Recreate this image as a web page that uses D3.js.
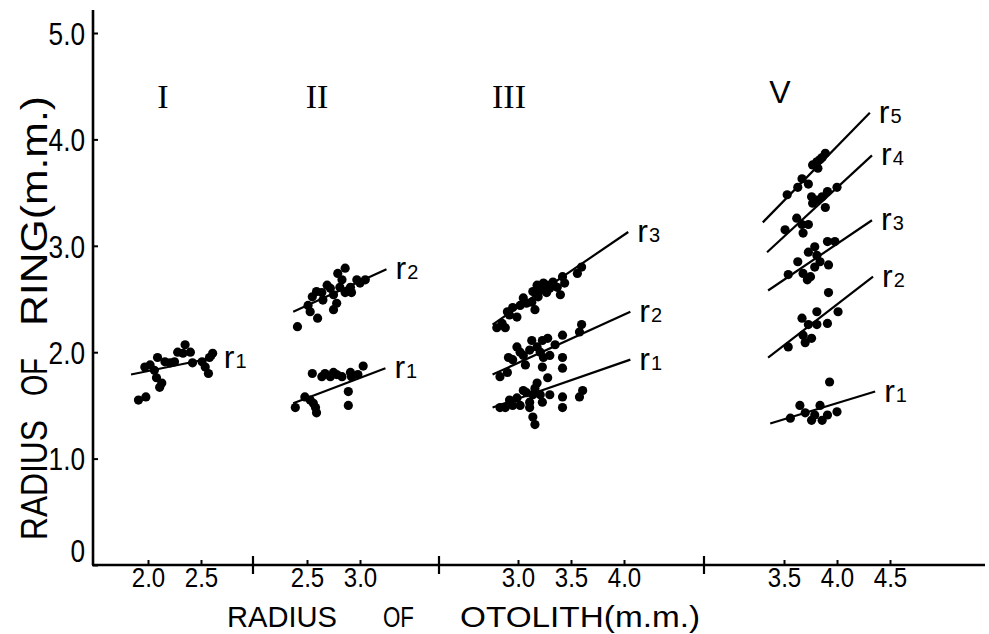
<!DOCTYPE html>
<html>
<head>
<meta charset="utf-8">
<script src="https://d3js.org/d3.v7.min.js"></script>
<style>
  body { margin: 0; background: #fff; }
  text { font-family: "Liberation Sans", Arial, sans-serif; fill: #000; }
  .dot { fill: #000; }
  .fit { stroke: #000; stroke-width: 2.2px; fill: none; }
  .axis line { stroke: #000; stroke-width: 2px; }
</style>
</head>
<body>
<script>
// age groups and the tick values of each otolith sub-axis
var groups = ["I", "II", "III", "V"];
var groupTicks = [[2.0, 2.5], [2.5, 3.0], [3.0, 3.5, 4.0], [3.5, 4.0, 4.5]];
var yTicks = [0, 1.0, 2.0, 3.0, 4.0, 5.0];

// points: [radius of otolith, radius of ring] (m.m.)
var g1_r1 = [[1.91,1.55],[1.98,1.58],[1.97,1.86],[2.02,1.88],[2.06,1.83],[2.08,1.76],[2.11,1.67],[2.13,1.71],[2.09,1.95],[2.16,1.91],[2.21,1.90],[2.25,1.91],[2.28,2.00],[2.33,1.99],[2.35,2.07],[2.40,2.00],[2.42,1.90],[2.51,1.91],[2.54,1.86],[2.57,1.80],[2.58,1.95],[2.61,1.99]];

var g2_r1 = [[2.39,1.48],[2.48,1.58],[2.53,1.55],[2.56,1.52],[2.58,1.48],[2.59,1.43],[2.55,1.80],[2.64,1.77],[2.67,1.80],[2.72,1.77],[2.75,1.81],[2.78,1.79],[2.83,1.77],[2.91,1.81],[2.92,1.77],[2.98,1.79],[3.03,1.87],[2.89,1.63],[2.89,1.50]];
var g2_r2 = [[2.41,2.24],[2.51,2.44],[2.55,2.52],[2.53,2.38],[2.60,2.32],[2.59,2.57],[2.64,2.56],[2.65,2.49],[2.69,2.63],[2.72,2.60],[2.75,2.54],[2.75,2.40],[2.78,2.46],[2.79,2.74],[2.83,2.68],[2.86,2.79],[2.81,2.61],[2.86,2.56],[2.91,2.61],[2.92,2.56],[2.97,2.68],[3.00,2.65],[3.05,2.68]];

var g3_r1 = [[2.83,1.48],[2.88,1.48],[2.92,1.55],[2.95,1.50],[2.99,1.57],[3.02,1.50],[3.05,1.64],[3.08,1.62],[3.11,1.53],[3.14,1.60],[3.16,1.66],[3.18,1.71],[3.21,1.60],[3.23,1.53],[3.28,1.76],[3.30,1.60],[3.14,1.39],[3.16,1.32],[3.42,1.58],[3.42,1.48],[3.58,1.58],[3.61,1.64],[3.11,1.48]];
var g3_r2 = [[2.83,1.77],[2.90,1.81],[2.91,1.95],[2.95,1.93],[2.99,2.05],[3.02,2.00],[3.05,1.97],[3.07,1.88],[3.11,2.02],[3.13,2.11],[3.18,2.05],[3.21,2.00],[3.23,2.11],[3.24,1.95],[3.23,1.86],[3.28,2.13],[3.30,1.97],[3.35,2.07],[3.42,2.16],[3.42,1.95],[3.42,1.85],[3.60,2.26],[3.58,2.19]];
var g3_r3 = [[2.80,2.23],[2.85,2.27],[2.88,2.23],[2.90,2.38],[2.92,2.35],[2.95,2.42],[2.99,2.33],[3.02,2.44],[3.05,2.51],[3.08,2.46],[3.13,2.47],[3.16,2.40],[3.14,2.57],[3.18,2.63],[3.21,2.58],[3.24,2.65],[3.27,2.56],[3.30,2.60],[3.33,2.66],[3.37,2.61],[3.40,2.54],[3.42,2.71],[3.44,2.65],[3.56,2.74],[3.60,2.80],[3.19,2.52],[3.27,2.63]];

var g5_r1 = [[3.56,1.38],[3.65,1.50],[3.70,1.43],[3.76,1.36],[3.79,1.41],[3.84,1.50],[3.86,1.36],[3.91,1.41],[4.00,1.44],[3.93,1.72]];
var g5_r2 = [[3.54,2.05],[3.67,2.32],[3.68,2.16],[3.70,2.09],[3.76,2.13],[3.73,2.26],[3.81,2.26],[3.81,2.38],[3.91,2.27],[3.92,2.56],[4.01,2.38]];
var g5_r3 = [[3.54,2.73],[3.63,2.85],[3.68,2.74],[3.72,2.68],[3.75,2.71],[3.73,2.94],[3.79,2.99],[3.81,2.91],[3.84,2.85],[3.79,2.80],[3.92,2.82],[3.91,3.04],[3.98,3.04]];
var g5_r4 = [[3.51,3.15],[3.62,3.26],[3.67,3.20],[3.68,3.12],[3.73,3.20],[3.76,3.46],[3.77,3.40],[3.81,3.43],[3.86,3.46],[3.91,3.51],[3.89,3.36],[4.00,3.55]];
var g5_r5 = [[3.53,3.48],[3.63,3.55],[3.67,3.63],[3.73,3.58],[3.77,3.76],[3.81,3.79],[3.82,3.73],[3.86,3.83],[3.89,3.87],[3.84,3.81]];

// fitted lines: [[x0,y0],[x1,y1]]
var g1_r1_fit = [[1.84,1.79],[2.63,1.95]];
var g2_r1_fit = [[2.37,1.52],[3.24,1.85]];
var g2_r2_fit = [[2.37,2.38],[3.25,2.78]];
var g3_r1_fit = [[2.76,1.48],[4.06,1.93]];
var g3_r2_fit = [[2.76,1.79],[4.06,2.38]];
var g3_r3_fit = [[2.76,2.26],[4.04,3.13]];
var g5_r1_fit = [[3.37,1.33],[4.36,1.63]];
var g5_r2_fit = [[3.35,1.95],[4.34,2.71]];
var g5_r3_fit = [[3.35,2.58],[4.33,3.24]];
var g5_r4_fit = [[3.34,2.94],[4.33,3.85]];
var g5_r5_fit = [[3.30,3.22],[4.31,4.25]];

var series = [
    {g: 0, ring: 1, pts: g1_r1, fit: g1_r1_fit},
    {g: 1, ring: 1, pts: g2_r1, fit: g2_r1_fit},
    {g: 1, ring: 2, pts: g2_r2, fit: g2_r2_fit},
    {g: 2, ring: 1, pts: g3_r1, fit: g3_r1_fit},
    {g: 2, ring: 2, pts: g3_r2, fit: g3_r2_fit},
    {g: 2, ring: 3, pts: g3_r3, fit: g3_r3_fit},
    {g: 3, ring: 1, pts: g5_r1, fit: g5_r1_fit},
    {g: 3, ring: 2, pts: g5_r2, fit: g5_r2_fit},
    {g: 3, ring: 3, pts: g5_r3, fit: g5_r3_fit},
    {g: 3, ring: 4, pts: g5_r4, fit: g5_r4_fit},
    {g: 3, ring: 5, pts: g5_r5, fit: g5_r5_fit}
];

var width = 989, height = 634;
var axisX = 93;

var svg = d3.select("body").append("svg")
    .attr("width", width)
    .attr("height", height);

var y = d3.scaleLinear().domain([0, 5]).range([565, 33]);

// each group has its own otolith scale, same mm-per-pixel
var groupStart = [148, 307, 518, 784];
var unit = 106;
var gx = groupTicks.map(function (t, i) {
    return d3.scaleLinear().domain([t[0], t[0] + 1]).range([groupStart[i], groupStart[i] + unit]);
});
var separators = [253, 439, 704];

// y axis
var yAxis = svg.append("g")
    .attr("class", "axis")
    .attr("transform", "translate(" + axisX + ",0)")
    .call(d3.axisLeft(y).tickValues(yTicks).tickSize(-5).tickPadding(8)
        .tickFormat(function (d) { return d === 0 ? "0" : d3.format(".1f")(d); }));
yAxis.select(".domain").remove();
yAxis.selectAll("text")
    .style("font-size", "32px")
    .attr("x", -8 / 0.82)
    .attr("transform", "scale(0.82,1)")
    .attr("dy", function (d) { return d === 0 ? "-0.1em" : "0.35em"; });

svg.append("line")
    .attr("x1", axisX).attr("x2", axisX)
    .attr("y1", 10).attr("y2", y(0))
    .attr("stroke", "#000").attr("stroke-width", 2.6);

// x axis base line
svg.append("line")
    .attr("x1", axisX - 1).attr("x2", 985)
    .attr("y1", y(0)).attr("y2", y(0))
    .attr("stroke", "#000").attr("stroke-width", 2.4);

svg.selectAll(".sep")
    .data(separators)
    .enter().append("line")
    .attr("class", "sep")
    .attr("x1", function (d) { return d; }).attr("x2", function (d) { return d; })
    .attr("y1", y(0) - 9).attr("y2", y(0) + 9)
    .attr("stroke", "#000").attr("stroke-width", 2.2);

gx.forEach(function (sc, i) {
    var ax = svg.append("g")
        .attr("class", "axis")
        .attr("transform", "translate(0," + y(0) + ")")
        .call(d3.axisBottom(sc).tickValues(groupTicks[i]).tickSize(-5).tickPadding(2)
            .tickFormat(d3.format(".1f")));
    ax.select(".domain").remove();
    ax.selectAll("text")
        .style("font-size", "28px")
        .attr("transform", "scale(0.86,1)");
});

// axis titles, word by word with the wide gaps of the original
var xTitle = [["RADIUS", 227, 110], ["OF", 383, 31], ["OTOLITH(m.m.)", 460, 240]];
svg.selectAll(".xtitle")
    .data(xTitle)
    .enter().append("text")
    .attr("class", "xtitle")
    .attr("x", function (d) { return d[1]; })
    .attr("y", 627)
    .attr("textLength", function (d) { return d[2]; })
    .attr("lengthAdjust", "spacingAndGlyphs")
    .style("font-size", "30px")
    .text(function (d) { return d[0]; });

var yTitle = [["RADIUS", 540, 120], ["OF", 396, 38], ["RING(m.m.)", 326, 230]];
svg.selectAll(".ytitle")
    .data(yTitle)
    .enter().append("text")
    .attr("class", "ytitle")
    .attr("transform", function (d) { return "translate(47," + d[1] + ") rotate(-90)"; })
    .attr("textLength", function (d) { return d[2]; })
    .attr("lengthAdjust", "spacingAndGlyphs")
    .style("font-size", "36px")
    .text(function (d) { return d[0]; });

// group numerals
var numeralX = [163, 317, 509, 780];
svg.selectAll(".numeral")
    .data(groups)
    .enter().append("text")
    .attr("class", "numeral")
    .attr("x", function (d, i) { return numeralX[i]; })
    .attr("y", function (d) { return d === "V" ? 103 : 108; })
    .attr("text-anchor", "middle")
    .style("font-family", function (d) { return d === "V" ? "Liberation Sans, sans-serif" : "Liberation Serif, serif"; })
    .style("font-size", function (d) { return d === "V" ? "32px" : "34px"; })
    .text(function (d) { return d; });

// fitted lines
svg.selectAll(".fit")
    .data(series)
    .enter().append("line")
    .attr("class", "fit")
    .attr("x1", function (d) { return gx[d.g](d.fit[0][0]); })
    .attr("y1", function (d) { return y(d.fit[0][1]); })
    .attr("x2", function (d) { return gx[d.g](d.fit[1][0]); })
    .attr("y2", function (d) { return y(d.fit[1][1]); });

// points
series.forEach(function (s) {
    svg.append("g").selectAll("circle")
        .data(s.pts)
        .enter().append("circle")
        .attr("class", "dot")
        .attr("cx", function (d) { return gx[s.g](d[0]); })
        .attr("cy", function (d) { return y(d[1]); })
        .attr("r", 4.6);
});

// ring labels r1..r5 at the line ends
var lab = svg.selectAll(".rlab")
    .data(series)
    .enter().append("text")
    .attr("class", "rlab")
    .attr("x", function (d) { return gx[d.g](d.fit[1][0]) + 9; })
    .attr("y", function (d) { return y(d.fit[1][1]) + 10; })
    .style("font-size", "32px");
lab.append("tspan").text("r");
lab.append("tspan")
    .attr("dx", 1)
    .style("font-size", "20px")
    .text(function (d) { return d.ring; });
</script>
</body>
</html>
